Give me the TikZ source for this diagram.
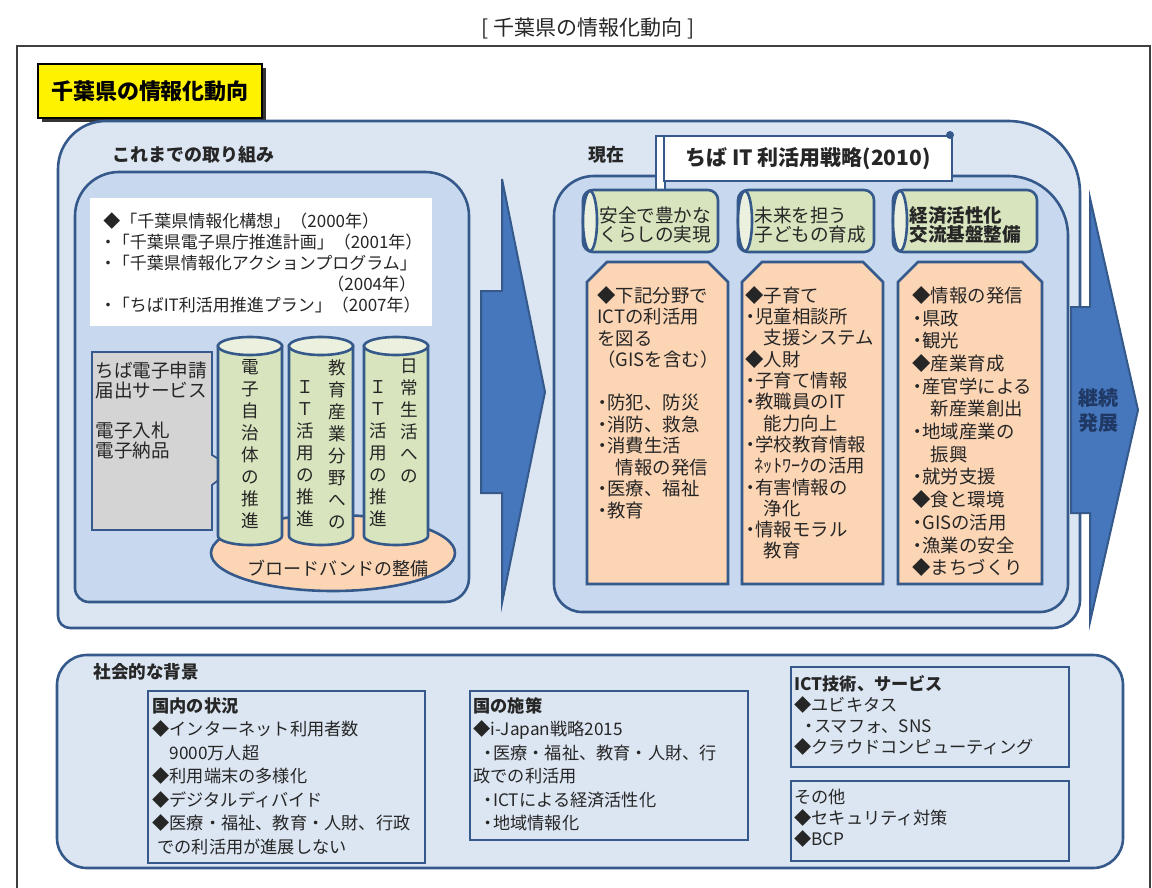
\documentclass[tikz,border=0pt]{standalone}
\usepackage{fontspec}
\setmainfont{Noto Sans CJK JP}
\usepackage{xcolor}
\usepackage{tikz}

\definecolor{edgeblue}{HTML}{34598A}
\definecolor{ringblue}{HTML}{DCE6F2}
\definecolor{panelblue}{HTML}{C8D9EF}
\definecolor{arrowblue}{HTML}{4677BC}
\definecolor{navytext}{HTML}{1F3864}
\definecolor{leafgreen}{HTML}{D7E4BD}
\definecolor{palegreen}{HTML}{EBF1DE}
\definecolor{peach}{HTML}{FCD5B5}
\definecolor{callgrey}{HTML}{D4D4D4}
\definecolor{ink}{HTML}{262626}

\newcommand{\dotmark}{\makebox[0.55em][c]{・}}

\tikzset{
	outline/.style={draw=edgeblue, line width=1.3pt},
	thinline/.style={draw=edgeblue, line width=0.9pt},
	blockarrow/.style={draw=edgeblue, line width=1pt, fill=arrowblue},
	txt/.style={inner sep=0pt, anchor=north west, align=left, text=ink},
	orangetxt/.style={txt, font=\fontsize{9.2}{10.75}\selectfont},
	lowtxt/.style={txt, font=\fontsize{8.6}{11.75}\selectfont},
	vtxt/.style={inner sep=0pt, anchor=north, align=center, text=ink, font=\fontsize{8.8}{11}\selectfont},
	headtxt/.style={inner sep=0pt, anchor=west, align=left, text=ink, font=\fontsize{9.3}{9.6}\selectfont}
}

\begin{document}
\begin{tikzpicture}[x=0.5pt, y=-0.5pt]
		\useasboundingbox (0,0) rectangle (1152,888);
		\fill[white] (0,0) rectangle (1152,888);
		\node[text=ink, font=\fontsize{10.5}{12}\selectfont] (heading) at (588,28) {[\ 千葉県の情報化動向\ ]};
		\draw[black!75, line width=0.8pt] (17,892) -- (17,46) -- (1150,46) -- (1150,892);
		\fill[black!80] (42,68) rectangle (266,122);
		\node[draw=black, line width=0.9pt, fill=yellow, minimum width=112pt, minimum height=27pt, font=\bfseries\fontsize{11}{13}\selectfont] (tag) at (150,91) {千葉県の情報化動向};

		\draw[outline, fill=ringblue] (58,400) [rounded corners=24pt] -- (58,121) -- (560,121) [rounded corners=36pt] -- (1080,121) -- (1080,400) [rounded corners=14pt] -- (1080,628) -- (560,628) [rounded corners=6pt] -- (58,628) -- cycle;
		\draw[outline, fill=panelblue] (75,400) [rounded corners=22pt] -- (75,172) -- (270,172) [rounded corners=22pt] -- (469,172) -- (469,400) [rounded corners=12pt] -- (469,602) -- (270,602) [rounded corners=7pt] -- (75,602) -- cycle;
		\draw[outline, fill=panelblue] (554,400) [rounded corners=20pt] -- (554,176) -- (810,176) [rounded corners=30pt] -- (1068,176) -- (1068,400) [rounded corners=14pt] -- (1068,612) -- (810,612) -- (554,612) -- cycle;

		\draw[blockarrow] (481,291) -- (502,291) -- (502,179) -- (545,392) -- (502,603) -- (502,493) -- (481,493) -- cycle;
		\draw[blockarrow] (1071,307) -- (1090,307) -- (1090,198) -- (1138,410) -- (1090,622) -- (1090,513) -- (1071,513) -- cycle;
		\node[align=center, text=navytext, font=\bfseries\fontsize{10}{12.5}\selectfont] (goon) at (1098,410) {継続\\発展};

		\node[txt, anchor=west, font=\bfseries\fontsize{9}{11}\selectfont] (sofar) at (112,155) {これまでの取り組み};
		\fill[white] (90,198) rectangle (432,326);
		\node[txt, font=\fontsize{8.5}{10.5}\selectfont] (plans) at (103,212) {◆「千葉県情報化構想」（2000年）\\\dotmark「千葉県電子県庁推進計画」（2001年）\\\dotmark「千葉県情報化アクションプログラム」\\\hspace*{112pt}（2004年）\\\dotmark「ちばIT利活用推進プラン」（2007年）};
		\draw[thinline, fill=callgrey] (92,352) -- (212,352) -- (212,455) -- (234,468) -- (212,485) -- (212,530) -- (92,530) -- cycle;
		\node[txt, font=\fontsize{9.3}{10}\selectfont] (eservice) at (95,361) {ちば電子申請\\届出サービス\\~\\電子入札\\電子納品};
		\draw[outline, fill=peach] (333,553) ellipse [x radius=122, y radius=38];
		\node[text=ink, font=\fontsize{9}{11}\selectfont] (broadband) at (338,569) {ブロードバンドの整備};
		\foreach \cx in {250,321,396} {
			\draw[outline, fill=leafgreen] (\cx-32,346) -- (\cx-32,536) arc[start angle=180, end angle=0, x radius=32, y radius=9] -- (\cx+32,346) -- cycle;
			\draw[outline, fill=palegreen] (\cx,346) ellipse [x radius=32, y radius=9];
		}
		\node[vtxt] (colA) at (250,359) {電\\子\\自\\治\\体\\の\\推\\進};
		\node[vtxt] (colBa) at (337,359) {教\\育\\産\\業\\分\\野\\へ\\の};
		\node[vtxt] (colBb) at (305,380) {Ｉ\\Ｔ\\活\\用\\の\\推\\進};
		\node[vtxt] (colCa) at (409,359) {日\\常\\生\\活\\へ\\の};
		\node[vtxt] (colCb) at (378,380) {Ｉ\\Ｔ\\活\\用\\の\\推\\進};

		\node[txt, anchor=west, font=\bfseries\fontsize{9}{11}\selectfont] (now) at (588,155) {現在};
		\draw[outline, fill=white] (656,136) rectangle (665,190);
		\node[outline, fill=white, minimum width=144pt, minimum height=22.5pt, inner sep=0pt, text=ink, font=\bfseries\fontsize{10.5}{12}\selectfont] (strategy) at (808,158.5) {ちば IT 利活用戦略(2010)};
		\fill[edgeblue] (950,135) circle (2pt);
		\foreach \xa/\xb/\lbl [count=\k] in {583/718/{安全で豊かな\\くらしの実現}, 738/874/{未来を担う\\子どもの育成}, 893/1037/{\bfseries 経済活性化\\\bfseries 交流基盤整備}} {
			\draw[outline, fill=leafgreen, rounded corners=5pt] (\xa,190) rectangle (\xb,252);
			\draw[outline, fill=palegreen] (\xa+7,221) ellipse [x radius=7, y radius=30];
			\node[headtxt] (goal\k) at (\xa+16,225) {\lbl};
		}
		\foreach \xa/\xb in {587/728, 742/883, 898/1042}
			\draw[outline, fill=peach] (\xa,584) -- (\xa,282) -- (\xa+20,262) -- (\xb-20,262) -- (\xb,282) -- (\xb,584) -- cycle;
		\node[orangetxt] (fieldA) at (597,286) {◆下記分野で\\ICTの利活用\\を図る\\（GISを含む）\\~\\\dotmark 防犯、防災\\\dotmark 消防、救急\\\dotmark 消費生活\\　情報の発信\\\dotmark 医療、福祉\\\dotmark 教育};
		\node[orangetxt, font=\fontsize{9.2}{10.65}\selectfont] (fieldB) at (745,286) {◆子育て\\\dotmark 児童相談所\\　支援システム\\◆人財\\\dotmark 子育て情報\\\dotmark 教職員のIT\\　能力向上\\\dotmark 学校教育情報\\\hspace*{0.5em}ﾈｯﾄﾜｰｸの活用\\\dotmark 有害情報の\\　浄化\\\dotmark 情報モラル\\　教育};
		\node[orangetxt, font=\fontsize{9.2}{11.35}\selectfont] (fieldC) at (912,286) {◆情報の発信\\\dotmark 県政\\\dotmark 観光\\◆産業育成\\\dotmark 産官学による\\　新産業創出\\\dotmark 地域産業の\\　振興\\\dotmark 就労支援\\◆食と環境\\\dotmark GISの活用\\\dotmark 漁業の安全\\◆まちづくり};

		\draw[outline, fill=ringblue, rounded corners=15pt] (57,655) rectangle (1123,868);
		\node[txt, anchor=west, font=\bfseries\fontsize{8.8}{11}\selectfont] (background) at (93,672) {社会的な背景};
		\draw[thinline] (148,691) rectangle (425,863);
		\node[lowtxt] (domestic) at (152,697) {\textbf{国内の状況}\\◆インターネット利用者数\\\hspace*{1em}9000万人超\\◆利用端末の多様化\\◆デジタルディバイド\\◆医療・福祉、教育・人財、行政\\\hspace*{0.3em}での利活用が進展しない};
		\draw[thinline] (470,691) rectangle (748,840);
		\node[lowtxt] (national) at (473,697) {\textbf{国の施策}\\◆i-Japan戦略2015\\\hspace*{0.6em}\dotmark 医療・福祉、教育・人財、行\\政での利活用\\\hspace*{0.6em}\dotmark ICTによる経済活性化\\\hspace*{0.6em}\dotmark 地域情報化};
		\draw[thinline] (791,667) rectangle (1069,767);
		\node[lowtxt, font=\fontsize{8.6}{10.5}\selectfont] (ictservice) at (794,675) {\textbf{ICT技術、サービス}\\◆ユビキタス\\\hspace*{0.6em}\dotmark スマフォ、SNS\\◆クラウドコンピューティング};
		\draw[thinline] (791,781) rectangle (1069,861);
		\node[lowtxt, font=\fontsize{8.6}{10.5}\selectfont] (others) at (794,789) {その他\\◆セキュリティ対策\\◆BCP};
	\end{tikzpicture}
\end{document}
